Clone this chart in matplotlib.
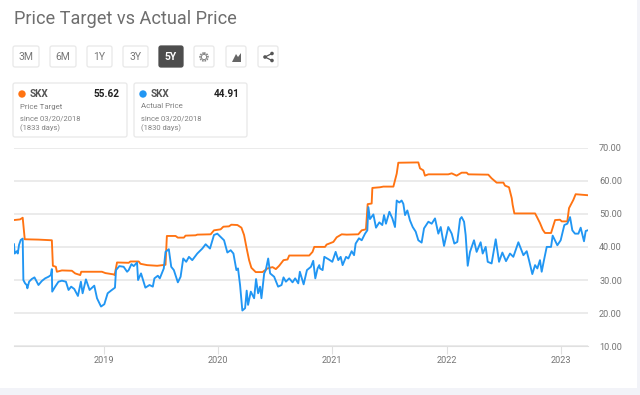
import matplotlib
matplotlib.use('Agg')
import matplotlib.pyplot as plt
from matplotlib.patches import FancyBboxPatch, Circle, Polygon, Rectangle

# price target, decimal years and dollars
target_dates = [2018.216, 2018.269, 2018.292, 2018.310, 2018.430, 2018.547, 2018.556, 2018.582, 2018.591, 2018.635,
                2018.722, 2018.751, 2018.795, 2018.804, 2018.985, 2019.015, 2019.088, 2019.096, 2019.117, 2019.219,
                2019.234, 2019.307, 2019.322, 2019.380, 2019.468, 2019.541, 2019.553, 2019.629, 2019.649, 2019.702,
                2019.716, 2019.804, 2019.819, 2019.936, 2019.965, 2020.023, 2020.047, 2020.096, 2020.117, 2020.170,
                2020.205, 2020.228, 2020.251, 2020.272, 2020.292, 2020.330, 2020.389, 2020.433, 2020.477, 2020.506,
                2020.535, 2020.573, 2020.608, 2020.623, 2020.798, 2020.827, 2020.842, 2020.892, 2020.936, 2020.950,
                2021.009, 2021.038, 2021.082, 2021.125, 2021.227, 2021.257, 2021.294, 2021.309, 2021.344, 2021.350,
                2021.417, 2021.446, 2021.534, 2021.563, 2021.577, 2021.752, 2021.767, 2021.796, 2021.810, 2021.840,
                2022.014, 2022.044, 2022.087, 2022.131, 2022.175, 2022.189, 2022.364, 2022.393, 2022.437, 2022.496,
                2022.510, 2022.545, 2022.569, 2022.577, 2022.592, 2022.773, 2022.787, 2022.816, 2022.840, 2022.860,
                2022.913, 2022.948, 2022.991, 2023.006, 2023.055, 2023.070, 2023.108, 2023.128, 2023.233]
target_prices = [48.1, 48.3, 48.8, 42.3, 42.2, 42.0, 34.3, 34.0, 32.5, 32.9,
                 32.8, 32.0, 31.5, 32.5, 32.5, 32.1, 31.7, 31.5, 35.3, 35.2,
                 35.6, 35.6, 34.9, 34.5, 34.3, 34.6, 43.3, 43.3, 42.8, 42.8,
                 43.4, 43.5, 43.7, 43.8, 45.0, 45.3, 46.1, 46.2, 46.7, 46.6,
                 45.8, 43.6, 39.5, 36.0, 33.7, 32.4, 32.4, 33.5, 33.9, 33.3,
                 34.3, 36.0, 36.2, 37.4, 37.4, 38.5, 40.0, 40.0, 40.0, 40.7,
                 41.5, 42.9, 43.8, 43.7, 43.8, 45.0, 45.3, 52.9, 53.1, 57.8,
                 58.0, 58.2, 58.2, 62.1, 65.4, 65.5, 63.7, 63.1, 61.5, 61.9,
                 61.9, 62.2, 61.5, 62.4, 62.4, 61.9, 61.8, 60.7, 59.4, 59.4,
                 58.5, 58.0, 54.7, 52.7, 50.1, 50.1, 49.2, 47.2, 45.2, 44.2,
                 44.2, 48.1, 48.2, 47.7, 47.7, 51.7, 54.2, 55.9, 55.6]

# actual price
actual_dates = [2018.216, 2018.222, 2018.240, 2018.249, 2018.260, 2018.275, 2018.292, 2018.298, 2018.313, 2018.327,
                2018.333, 2018.348, 2018.371, 2018.395, 2018.415, 2018.430, 2018.459, 2018.488, 2018.518, 2018.538,
                2018.547, 2018.550, 2018.576, 2018.605, 2018.635, 2018.670, 2018.693, 2018.716, 2018.743, 2018.775,
                2018.801, 2018.816, 2018.845, 2018.877, 2018.918, 2018.942, 2018.977, 2019.006, 2019.035, 2019.064,
                2019.099, 2019.108, 2019.137, 2019.175, 2019.205, 2019.219, 2019.243, 2019.263, 2019.292, 2019.301,
                2019.327, 2019.365, 2019.401, 2019.430, 2019.444, 2019.474, 2019.491, 2019.526, 2019.541, 2019.570,
                2019.591, 2019.614, 2019.649, 2019.673, 2019.696, 2019.722, 2019.746, 2019.775, 2019.819, 2019.863,
                2019.892, 2019.930, 2019.965, 2019.994, 2020.023, 2020.053, 2020.082, 2020.111, 2020.135, 2020.161,
                2020.175, 2020.193, 2020.213, 2020.237, 2020.251, 2020.263, 2020.287, 2020.316, 2020.333, 2020.351,
                2020.368, 2020.380, 2020.404, 2020.418, 2020.439, 2020.456, 2020.491, 2020.526, 2020.556, 2020.573,
                2020.594, 2020.623, 2020.652, 2020.675, 2020.702, 2020.716, 2020.749, 2020.778, 2020.813, 2020.833,
                2020.851, 2020.871, 2020.886, 2020.892, 2020.915, 2020.930, 2020.965, 2021.000, 2021.029, 2021.052,
                2021.073, 2021.090, 2021.120, 2021.140, 2021.169, 2021.190, 2021.204, 2021.233, 2021.257, 2021.286,
                2021.306, 2021.315, 2021.329, 2021.359, 2021.382, 2021.411, 2021.437, 2021.452, 2021.469, 2021.499,
                2021.525, 2021.548, 2021.563, 2021.586, 2021.606, 2021.621, 2021.636, 2021.656, 2021.679, 2021.703,
                2021.729, 2021.752, 2021.781, 2021.802, 2021.840, 2021.869, 2021.898, 2021.927, 2021.948, 2021.977,
                2022.014, 2022.044, 2022.067, 2022.093, 2022.117, 2022.131, 2022.152, 2022.166, 2022.184, 2022.204,
                2022.239, 2022.262, 2022.297, 2022.315, 2022.341, 2022.359, 2022.393, 2022.429, 2022.458, 2022.487,
                2022.519, 2022.554, 2022.583, 2022.627, 2022.671, 2022.700, 2022.720, 2022.749, 2022.773, 2022.793,
                2022.816, 2022.831, 2022.851, 2022.875, 2022.913, 2022.927, 2022.968, 2022.997, 2023.029, 2023.055,
                2023.079, 2023.099, 2023.122, 2023.152, 2023.172, 2023.201, 2023.216, 2023.233]
actual_prices = [40.8, 38.0, 38.7, 38.0, 40.6, 42.1, 42.5, 30.0, 29.0, 28.5,
                 27.5, 29.5, 30.3, 30.8, 29.5, 28.5, 29.7, 30.5, 31.0, 31.5,
                 33.3, 26.5, 28.0, 29.5, 29.8, 29.5, 27.0, 28.0, 27.3, 25.2,
                 29.5, 26.0, 30.2, 27.0, 28.3, 24.5, 22.0, 22.7, 26.0, 26.8,
                 27.7, 33.0, 34.2, 34.0, 32.5, 33.0, 34.8, 34.2, 35.3, 30.0,
                 32.0, 27.7, 28.5, 28.0, 30.5, 31.3, 30.5, 33.5, 38.5, 39.3,
                 34.0, 33.0, 29.3, 31.0, 36.5, 35.5, 37.0, 36.0, 38.0, 39.5,
                 40.8, 39.5, 43.6, 44.0, 43.0, 42.0, 38.3, 39.0, 38.0, 33.0,
                 33.5, 28.5, 20.8, 21.5, 26.8, 22.5, 26.5, 24.5, 30.3, 26.0,
                 28.0, 24.5, 32.0, 33.0, 36.5, 32.0, 31.0, 28.0, 28.5, 30.8,
                 29.5, 30.5, 29.3, 30.5, 29.0, 32.5, 28.7, 33.0, 34.0, 35.8,
                 30.5, 33.5, 34.5, 33.5, 33.0, 37.0, 36.3, 35.5, 38.5, 36.0,
                 37.0, 34.5, 37.0, 36.5, 38.7, 37.5, 41.0, 42.6, 42.0, 44.0,
                 45.0, 52.0, 48.4, 49.8, 45.8, 47.4, 46.6, 49.6, 47.0, 50.6,
                 48.6, 46.0, 54.0, 53.4, 54.0, 53.0, 49.6, 51.0, 48.0, 46.0,
                 44.6, 42.0, 41.3, 45.6, 47.6, 47.0, 48.6, 44.0, 46.0, 40.3,
                 46.0, 44.0, 41.0, 41.5, 48.4, 49.0, 47.6, 43.6, 34.3, 38.5,
                 42.0, 38.5, 41.4, 38.0, 40.0, 35.5, 35.0, 42.3, 35.5, 38.3,
                 35.7, 38.0, 37.0, 41.4, 37.5, 38.7, 36.0, 31.8, 34.5, 33.5,
                 36.0, 32.5, 36.0, 40.0, 40.0, 43.4, 40.5, 42.0, 46.6, 47.0,
                 49.0, 45.0, 44.0, 44.0, 45.8, 41.7, 44.8, 45.0]

y_ticks = [10, 20, 30, 40, 50, 60, 70]
year_ticks = [2019, 2020, 2021, 2022, 2023]

plt.rcParams['font.family'] = ['Roboto', 'DejaVu Sans']
GRAY = '#757575'
ORANGE = '#ff7312'
BLUE = '#2196f3'
W, H = 640, 395

fig = plt.figure(figsize=(6.4, 3.95), dpi=100, facecolor='white')

# chart area
ax = fig.add_axes([14 / W, 1 - 346.3 / H, 574 / W, 198.8 / H])
ax.plot(target_dates, target_prices, color=ORANGE, lw=1.35, zorder=3, solid_joinstyle='round')
ax.plot(actual_dates, actual_prices, color=BLUE, lw=1.35, zorder=4, solid_joinstyle='round')
ax.set_xlim(2018.216, 2023.236)
ax.set_ylim(10, 70)
ax.set_yticks(y_ticks)
ax.set_yticklabels(['%.2f' % v for v in y_ticks])
ax.set_xticks(year_ticks)
ax.set_xticklabels([str(y) for y in year_ticks])
ax.yaxis.tick_right()
ax.grid(axis='y', color='#e6e6e6', lw=1.1)
for s in ['top', 'left', 'right']:
    ax.spines[s].set_visible(False)
ax.spines['bottom'].set_color('#e0e0e0')
ax.tick_params(axis='y', length=0, pad=8, labelsize=6.6, labelcolor=GRAY)
ax.tick_params(axis='x', length=5.5, color='#e0e0e0', pad=1.5, labelsize=6.6, labelcolor=GRAY)

# page furniture, in pixel coordinates
ui = fig.add_axes([0, 0, 1, 1], zorder=-1)
ui.set_xlim(0, W)
ui.set_ylim(H, 0)
ui.axis('off')
ui.add_patch(Rectangle((0, 388), W, 7, color='#f2f3f8', lw=0))
ui.add_patch(Rectangle((637, 0), 3, H, color='#f2f3f8', lw=0))

over = fig.add_axes([0, 0, 1, 1], zorder=5)
over.set_xlim(0, W)
over.set_ylim(H, 0)
over.axis('off')

over.text(13.5, 19.5, 'Price Target vs Actual Price', fontsize=13.1, color='#6e6e6e', va='center')


def box(x0, y0, x1, y1, face='white', edge='#e8e8e8'):
    over.add_patch(FancyBboxPatch((x0 + 2, y0 + 2), x1 - x0 - 4, y1 - y0 - 4,
                                  boxstyle='round,pad=2,rounding_size=2',
                                  fc=face, ec=edge, lw=0.9))


buttons = [('3M', 13, 39), ('6M', 50, 76), ('1Y', 87, 112), ('3Y', 123, 148), ('5Y', 159, 183)]
for label, x0, x1 in buttons:
    active = label == '5Y'
    box(x0, 46, x1, 67, face='#4d4d4d' if active else 'white', edge='#4d4d4d' if active else '#e8e8e8')
    over.text((x0 + x1) / 2, 57, label, ha='center', va='center', fontsize=7.5,
              color='white' if active else '#777777', fontweight='bold' if active else 'normal')

# icon buttons
box(194, 46, 214, 67)
box(226, 46, 246, 67)
box(258, 46, 278, 67)
over.add_patch(Circle((204, 57), 3.9, fc='none', ec='#888888', lw=1.3, ls=(0, (0.9, 0.5))))
over.add_patch(Circle((204, 57), 2.6, fc='none', ec='#777777', lw=0.6))
over.add_patch(Polygon([(232, 62), (236, 54), (238, 57), (241, 53), (241, 62)], fc='#666666', ec='none'))
over.plot([265, 272], [57, 53.5], color='#555555', lw=0.9)
over.plot([265, 272], [57, 60.5], color='#555555', lw=0.9)
for cx, cy in [(265, 57), (272, 53.5), (272, 60.5)]:
    over.add_patch(Circle((cx, cy), 1.8, fc='#555555', ec='none'))

# legend cards
cards = [(13, 127, ORANGE, '55.62', 'Price Target', '(1833 days)'),
         (134, 247, BLUE, '44.91', 'Actual Price', '(1830 days)')]
for x0, x1, color, value, name, days in cards:
    box(x0, 83, x1, 137)
    over.add_patch(Circle((x0 + 9, 94), 3.7, fc=color, ec='none'))
    over.text(x0 + 17, 94, 'SKX', fontsize=7.2, fontweight='bold', color='#555555', va='center')
    over.text(x1 - 7, 94, value, fontsize=7.2, fontweight='bold', color='#222222', va='center', ha='right')
    over.text(x0 + 7, 106.5, name, fontsize=5.7, color='#808080', va='center')
    over.text(x0 + 7, 118.5, 'since 03/20/2018', fontsize=5.5, color='#808080', va='center')
    over.text(x0 + 7, 128, days, fontsize=5.5, color='#808080', va='center')

fig.savefig('out.png', dpi=100)
